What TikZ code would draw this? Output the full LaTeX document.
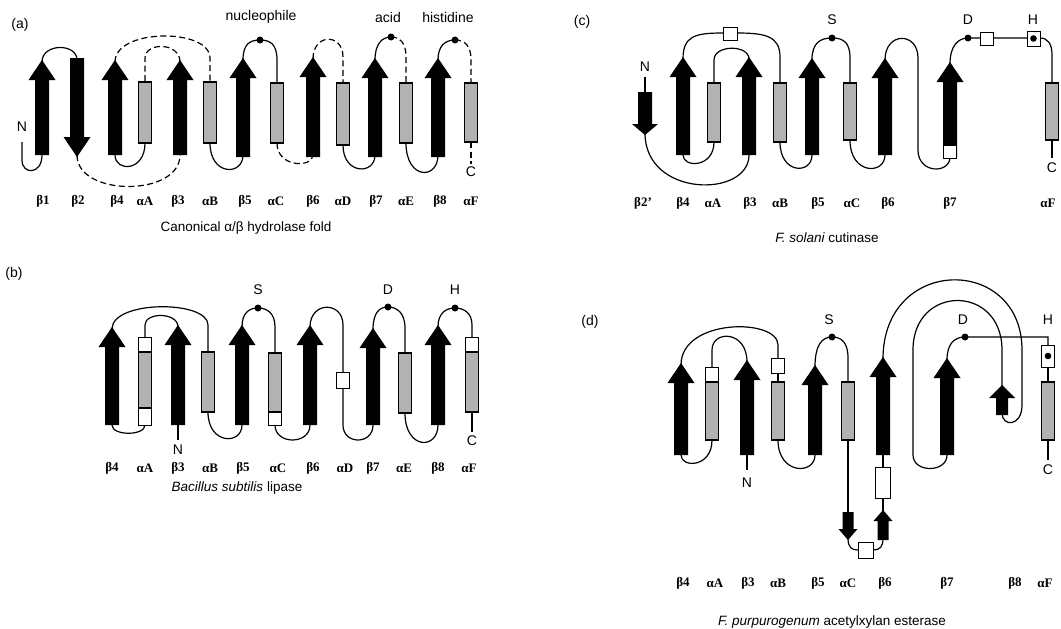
\documentclass[tikz,border=0pt]{standalone}
\usepackage{fontspec}
\setmainfont{Liberation Serif}
\setsansfont{Liberation Sans}
\newcommand\strand[6]{\fill[strandfill] (#1-#5,#4) -- (#1-#5,#3) -- (#1-#6,#3) -- (#1,#2) -- (#1+#6,#3) -- (#1+#5,#3) -- (#1+#5,#4) -- cycle;}
\newcommand\helix[3]{\draw[helixbox] (#1-6.5,#2) rectangle (#1+6.5,#3);}
\newcommand\wbox[3]{\draw[whitebox] (#1-6.5,#2) rectangle (#1+6.5,#3);}
\begin{document}
\begin{tikzpicture}[x=1pt,y=-1pt,
 strandfill/.style={fill=black},
 helixbox/.style={draw=black, fill=black!30, line width=1.3pt},
 whitebox/.style={draw=black, fill=white, line width=1pt},
 conn/.style={draw=black, line width=1.2pt},
 dconn/.style={conn, dash pattern=on 6pt off 3.5pt},
 lab/.style={font=\rmfamily\bfseries\fontsize{13}{15}\selectfont, inner sep=0pt},
 res/.style={font=\sffamily\fontsize{14}{16}\selectfont, inner sep=0pt},
 captxt/.style={font=\sffamily\fontsize{13.5}{16}\selectfont, inner sep=0pt},
 dotc/.style={fill=black}]
\useasboundingbox[fill=white] (0,0) rectangle (1061,629);

%================ (a) =================
\node[res] (pa) at (20,25) {(a)};
\draw[conn] (22,142) -- (22,160) .. controls (22,175) and (42,175) .. (42,155);
\draw[conn] (42,62) .. controls (42,43) and (77,43) .. (77,60);
\draw[dconn] (77,155) .. controls (77,197) and (180,197) .. (180,155);
\draw[dconn] (180,62) .. controls (180,42) and (145,42) .. (145,58) -- (145,82);
\draw[conn] (145,143) .. controls (145,172) and (115,172) .. (115,155);
\draw[dconn] (115,62) .. controls (115,28) and (210,28) .. (210,58) -- (210,82);
\draw[conn] (210,143) .. controls (210,176) and (243,176) .. (243,155);
\draw[conn] (243,60) .. controls (243,44) and (250,40) .. (260,40) .. controls (270,40) and (277,44) .. (277,60) -- (277,83);
\draw[dconn] (277,143) .. controls (277,168) and (313,168) .. (313,155);
\draw[dconn] (313,59) .. controls (313,33) and (343,33) .. (343,57) -- (343,83);
\draw[conn] (343,145) .. controls (343,175) and (375,175) .. (375,155);
\draw[conn] (375,60) .. controls (375,44) and (382,37) .. (391,37);
\draw[dconn] (391,37) .. controls (400,37) and (406,43) .. (406,57) -- (406,83);
\draw[conn] (406,143) .. controls (406,180) and (438,180) .. (438,155);
\draw[conn] (438,60) .. controls (438,46) and (445,40) .. (455,40);
\draw[dconn] (455,40) .. controls (465,40) and (471,46) .. (471,60) -- (471,83);
\draw[dconn] (471,142) -- (471,164);
\fill[dotc] (260,40) circle (3.5pt);
\fill[dotc] (391,37) circle (3.5pt);
\fill[dotc] (455,40) circle (3.5pt);
\strand{42}{60}{80}{155}{7}{13.5}
\strand{77}{157}{137}{58}{7}{13.5}
\strand{115}{60}{80}{155}{7}{13.5}
\strand{180}{60}{80}{155}{7}{13.5}
\strand{243}{58}{78}{157}{7}{13.5}
\strand{313}{57}{77}{157}{7}{13.5}
\strand{375}{58}{78}{157}{7}{13.5}
\strand{438}{58}{78}{157}{7}{13.5}
\helix{145}{82}{143}
\helix{210}{82}{143}
\helix{277}{83}{143}
\helix{343}{83}{145}
\helix{406}{83}{143}
\helix{471}{83}{142}
\node[res] (aN) at (22,127) {N};
\node[res] (aC) at (471,172) {C};
\node[res] (anuc) at (261,17) {nucleophile};
\node[res] (aacid) at (388,17) {acid};
\node[res] (ahis) at (448,17) {histidine};
\foreach \x/\t [count=\i] in {43/β1,78/β2,117/β4,145/αA,178/β3,210/αB,245/β5,276/αC,313/β6,343/αD,376/β7,406/αE,440/β8,471/αF}
  \node[lab] (al\i) at (\x,201) {\t};
\node[captxt] (acap) at (246,228) {Canonical α/β hydrolase fold};

%================ (b) =================
\node[res] (pb) at (14,274) {(b)};
\draw[conn] (178,425) -- (178,440);
\draw[conn] (178,327) .. controls (178,312) and (145,312) .. (145,325) -- (145,337);
\draw[conn] (145,425) .. controls (145,436) and (112,436) .. (112,425);
\draw[conn] (112,329) .. controls (112,300) and (208,300) .. (208,325) -- (208,352);
\draw[conn] (208,412) .. controls (208,445) and (242,445) .. (242,425);
\draw[conn] (242,327) .. controls (242,313) and (249,308) .. (258,308) .. controls (267,308) and (275,313) .. (275,327) -- (275,353);
\draw[conn] (275,425) .. controls (275,445) and (310,445) .. (310,425);
\draw[conn] (310,327) .. controls (310,301) and (343,301) .. (343,325) -- (343,425) .. controls (343,445) and (373,445) .. (373,425);
\draw[conn] (373,330) .. controls (373,313) and (379,307) .. (388,307) .. controls (397,307) and (405,313) .. (405,328) -- (405,353);
\draw[conn] (405,413) .. controls (405,450) and (438,450) .. (438,425);
\draw[conn] (438,327) .. controls (438,313) and (446,308) .. (455,308) .. controls (464,308) and (472,313) .. (472,325) -- (472,337);
\draw[conn] (472,412) -- (472,432);
\fill[dotc] (258,308) circle (3.5pt);
\fill[dotc] (388,307) circle (3.5pt);
\fill[dotc] (455,308) circle (3.5pt);
\strand{112}{327}{347}{425}{7}{13.5}
\strand{178}{325}{345}{425}{7}{13.5}
\strand{242}{325}{345}{425}{7}{13.5}
\strand{310}{325}{345}{425}{7}{13.5}
\strand{373}{328}{348}{425}{7}{13.5}
\strand{438}{325}{345}{425}{7}{13.5}
\wbox{145}{337}{425}
\helix{145}{352}{408}
\helix{208}{352}{412}
\wbox{275}{353}{425}
\helix{275}{353}{412}
\wbox{343}{372}{388}
\helix{405}{353}{413}
\wbox{472}{337}{412}
\helix{472}{352}{412}
\node[res] (bN) at (178,450) {N};
\node[res] (bC) at (472,441) {C};
\node[res] (bS) at (258,290) {S};
\node[res] (bD) at (388,290) {D};
\node[res] (bH) at (455,290) {H};
\foreach \x/\t [count=\i] in {112/β4,145/αA,178/β3,210/αB,243/β5,278/αC,313/β6,345/αD,373/β7,404/αE,438/β8,469/αF}
  \node[lab] (bl\i) at (\x,468) {\t};
\node[captxt] (bcap) at (237,488) {\itshape Bacillus subtilis\upshape\ lipase};

%================ (c) =================
\node[res] (pc) at (582,22) {(c)};
\draw[conn] (645,77) -- (645,92);
\draw[conn] (645,133) .. controls (645,198) and (749,198) .. (749,155);
\draw[conn] (749,59) .. controls (749,44.5) and (714,44.5) .. (714,60) -- (714,83);
\draw[conn] (714,142) .. controls (714,168) and (683,168) .. (683,155);
\draw[conn] (683,59) .. controls (683,36) and (695,33) .. (723,33);
\draw[conn] (737,33) .. controls (765,33) and (780,36) .. (780,57) -- (780,83);
\draw[conn] (780,142) .. controls (780,174.5) and (812,174.5) .. (812,155);
\draw[conn] (812,60) .. controls (812,43) and (820,38) .. (832,38) .. controls (844,38) and (850,43) .. (850,58) -- (850,83);
\draw[conn] (850,140) .. controls (850,175) and (885,175) .. (885,155);
\draw[conn] (885,60) .. controls (885,31.5) and (918,31.5) .. (918,58) -- (918,150) .. controls (918,174) and (950,174) .. (950,157);
\draw[conn] (950,64) .. controls (950,46) and (958,38) .. (968,38) -- (1027,38);
\draw[conn] (1040,38) .. controls (1048,38) and (1052,44) .. (1052,55) -- (1052,83);
\draw[conn] (1052,140) -- (1052,158);
\fill[dotc] (832,38) circle (3.5pt);
\fill[dotc] (968,38) circle (3.5pt);
\strand{645}{135}{124}{92}{7}{13}
\strand{683}{57}{77}{155}{7}{13.5}
\strand{749}{57}{77}{155}{7}{13.5}
\strand{812}{58}{78}{155}{7}{13.5}
\strand{885}{58}{78}{155}{7}{13.5}
\strand{950}{62}{82}{157}{7}{13.5}
\wbox{950}{145}{158}
\draw[whitebox] (723,27) rectangle (737,40);
\draw[whitebox] (980,32) rectangle (993,45);
\draw[whitebox] (1027,31) rectangle (1040,46);
\fill[dotc] (1033.5,38.5) circle (3.3pt);
\helix{714}{83}{142}
\helix{780}{83}{142}
\helix{850}{83}{140}
\helix{1052}{83}{140}
\node[res] (cN) at (645,67) {N};
\node[res] (cC) at (1052,168) {C};
\node[res] (cS) at (832,20) {S};
\node[res] (cD) at (968,20) {D};
\node[res] (cH) at (1033,20) {H};
\foreach \x/\t [count=\i] in {643/β2’,683/β4,713/αA,750/β3,780/αB,818/β5,852/αC,888/β6,950/β7,1048/αF}
  \node[lab] (cl\i) at (\x,203) {\t};
\node[captxt] (ccap) at (827,238) {\itshape F. solani\upshape\ cutinase};

%================ (d) =================
\node[res] (pd) at (590,322) {(d)};
\draw[conn] (747,455) -- (747,470);
\draw[conn] (747,362) .. controls (747,330) and (712,330) .. (712,350) -- (712,367);
\draw[conn] (712,440) .. controls (712,468) and (681,468) .. (681,455);
\draw[conn] (681,365) .. controls (681,318) and (778,318) .. (778,345) -- (778,358);
\draw[conn] (778,373) -- (778,382);
\draw[conn] (778,440) .. controls (778,475) and (815,475) .. (815,455);
\draw[conn] (815,367) .. controls (815,345) and (822,337) .. (832,337) .. controls (842,337) and (848,343) .. (848,358) -- (848,382);
\draw[conn] (848,440) -- (848,512);
\draw[conn] (848,538) .. controls (848,548) and (852,550) .. (858,550);
\draw[conn] (873,550) .. controls (880,550) and (883,547) .. (883,538);
\draw[conn] (883,512) -- (883,455);
\draw[conn] (883,359) .. controls (883,255) and (1022,255) .. (1022,350) -- (1022,405) .. controls (1022,427) and (1002,427) .. (1002,413);
\draw[conn] (1002,387) -- (1002,350) .. controls (1002,284) and (913,284) .. (913,350) -- (913,455) .. controls (913,473) and (947,473) .. (947,455);
\draw[conn] (947,360) .. controls (947,343) and (955,337) .. (965,337) -- (1048,337) -- (1048,345);
\draw[conn] (1048,367) -- (1048,382);
\draw[conn] (1048,440) -- (1048,460);
\fill[dotc] (832,337) circle (3.5pt);
\fill[dotc] (965,337) circle (3.5pt);
\strand{681}{363}{383}{455}{7}{13.5}
\strand{747}{360}{380}{455}{7}{13.5}
\strand{815}{365}{385}{455}{7}{13.5}
\strand{883}{357}{377}{455}{7}{13.5}
\strand{947}{358}{378}{455}{7}{13.5}
\strand{848}{540}{529}{512}{5.5}{9.5}
\strand{883}{510}{521}{540}{5.5}{9.5}
\strand{1002}{385}{398}{415}{6}{13}
\wbox{712}{367}{382}
\helix{712}{382}{440}
\wbox{778}{358}{373}
\helix{778}{382}{440}
\helix{848}{382}{440}
\draw[whitebox] (858,542) rectangle (873,558);
\draw[whitebox] (875.5,467) rectangle (890.5,498);
\wbox{1048}{345}{367}
\fill[dotc] (1048,356) circle (3.3pt);
\helix{1048}{382}{440}
\node[res] (dN) at (747,483) {N};
\node[res] (dC) at (1048,470) {C};
\node[res] (dS) at (829,320) {S};
\node[res] (dD) at (963,320) {D};
\node[res] (dH) at (1048,320) {H};
\foreach \x/\t [count=\i] in {683/β4,715/αA,748/β3,778/αB,818/β5,848/αC,885/β6,947/β7,1015/β8,1045/αF}
  \node[lab] (dl\i) at (\x,583) {\t};
\node[captxt] (dcap) at (832,622) {\itshape F. purpurogenum\upshape\ acetylxylan esterase};
\end{tikzpicture}
\end{document}
